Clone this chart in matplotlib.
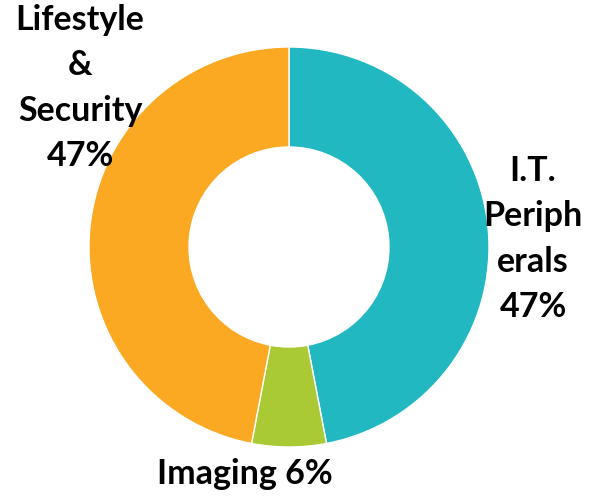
import matplotlib.pyplot as plt

labels = ['I.T.\nPeriph\nerals\n47%', 'Imaging 6%', 'Lifestyle\n&\nSecurity\n47%']
values = [47, 6, 47]
colors = ['#21B8C1', '#A9CA35', '#FBA822']

fig = plt.figure(figsize=(5.96, 4.99), dpi=100)
ax = fig.add_axes([89/596, 52/499, 400/596, 400/499])
ax.pie(values, colors=colors, startangle=90, counterclock=False, radius=1.0,
       wedgeprops=dict(width=0.5, edgecolor='white', linewidth=1))
ax.set_xlim(-1, 1)
ax.set_ylim(-1, 1)
ax.set_aspect('equal')
ax.axis('off')

# label positions (data units, radius = 1)
pos = [(1.22, 0.04), (-0.22, -1.135), (-1.045, 0.795)]
for lab, (x, y) in zip(labels, pos):
    ax.text(x, y, lab, ha='center', va='center', fontsize=24.5, fontweight='bold',
            family='Lato', linespacing=1.52, clip_on=False)

fig.savefig('out.png', dpi=100)
